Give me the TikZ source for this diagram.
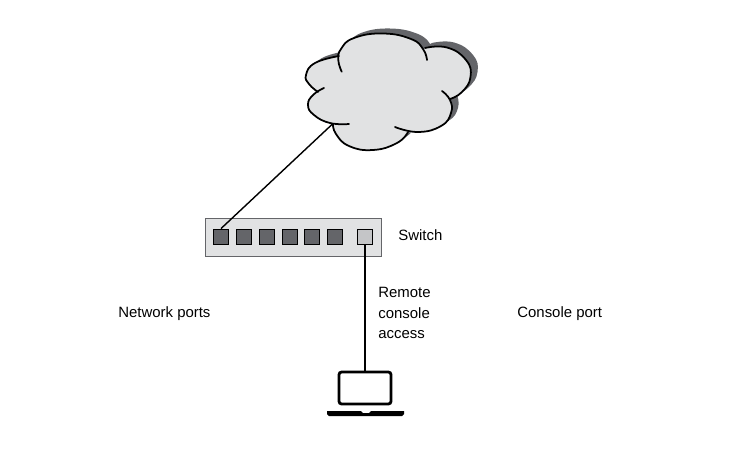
\documentclass[tikz,border=0pt]{standalone}
\usepackage{fontspec}
\setmainfont{Liberation Sans}
\definecolor{panelgray}{HTML}{E1E2E3}
\definecolor{shadegray}{HTML}{646569}
\definecolor{lightport}{HTML}{C4C5C7}
\tikzset{
    netport/.style={draw=black,fill=shadegray,line width=0.5pt,minimum size=0.3cm,inner sep=0pt},
    consoleport/.style={netport,fill=lightport},
    label/.style={font=\fontsize{8.5}{11.6}\selectfont,align=left,inner sep=0pt},
    lobe/.style={black,line width=1pt,line cap=round},
    smoothlobe/.style={smooth,tension=0.8}
}
\newcommand{\lobetop}{(341.7,71.7) (338.3,60) (341,49) (354,38) (383,33.5) (411,39) (423,49) (427,60)}
\newcommand{\loberight}{(425,48) (447,47.5) (466,60) (470.5,77) (462,92) (450,99)}
\newcommand{\lobelowright}{(442,91) (450,100) (451,113) (441,126) (418,132) (395,127)}
\newcommand{\lobebottom}{(408,132) (397,143) (373,150) (349,146) (336,134) (333,124)}
\newcommand{\lobelowleft}{(349,124) (330,123) (314,115) (308,105) (313,95) (324,88)}
\newcommand{\lobeupleft}{(318,92) (309,84) (306,75) (315,63) (339,56)}
\newcommand{\cloudfill}{plot[smoothlobe] coordinates {(341,49) (354,38) (383,33.5) (411,39) (423,49)} -- plot[smoothlobe] coordinates {(425,48) (447,47.5) (466,60) (470.5,77) (462,92) (450,99)} -- plot[smoothlobe] coordinates {(450,100) (451,113) (441,126) (418,132) (408,132)} -- plot[smoothlobe] coordinates {(408,132) (397,143) (373,150) (349,146) (336,134) (333,124)} -- plot[smoothlobe] coordinates {(330,123) (314,115) (308,105) (313,95) (318,92)} -- plot[smoothlobe] coordinates {(318,92) (309,84) (306,75) (315,63) (339,56)} -- cycle}
\begin{document}
\begin{tikzpicture}[x=0.02cm,y=-0.02cm]
    \useasboundingbox (0,0) rectangle (739,453);

    % cloud
    \fill[shadegray,shift={(7,-5)}] \cloudfill;
    \fill[panelgray] \cloudfill;
    \draw[lobe] plot[smoothlobe] coordinates {\lobetop};
    \draw[lobe] plot[smoothlobe] coordinates {\loberight};
    \draw[lobe] plot[smoothlobe] coordinates {\lobelowright};
    \draw[lobe] plot[smoothlobe] coordinates {\lobebottom};
    \draw[lobe] plot[smoothlobe] coordinates {\lobelowleft};
    \draw[lobe] plot[smoothlobe] coordinates {\lobeupleft};
    \coordinate (cloudend) at (332.5,124);

    % switch
    \node[draw=shadegray,fill=panelgray,line width=0.5pt,minimum width=3.52cm,minimum height=0.75cm,inner sep=0pt] (switch) at (293.7,237.2) {};
    \node[netport] (port1) at (221,236.5) {};
    \node[netport] (port2) at (243.5,236.5) {};
    \node[netport] (port3) at (266.5,236.5) {};
    \node[netport] (port4) at (289.5,236.5) {};
    \node[netport] (port5) at (312,236.5) {};
    \node[netport] (port6) at (335,236.5) {};
    \node[consoleport] (console) at (365,236.5) {};

    % laptop
    \node[draw=black,line width=1.6pt,rounded corners=1.5pt,minimum width=1.04cm,minimum height=0.64cm,inner sep=0pt] (laptop) at (365,388) {};
    \fill[black] (327,411) -- (361,411) -- (363,413) -- (369,413) -- (371,411) -- (404,411) -- (404,414) -- (402,416) -- (329,416) -- (327,414) -- cycle;

    % connectors
    \draw[black,thick] (cloudend) -- (port1.north);
    \draw[black,thick] (console.south) -- (laptop.north);

    % labels
    \node[label,anchor=west] (switchlabel) at (398,235) {Switch};
    \node[label,anchor=west] (netlabel) at (118,314) {Network ports};
    \node[label,anchor=west] (conslabel) at (517,314) {Console port};
    \node[label,anchor=west] (remotelabel) at (378,313) {Remote\\console\\access};
\end{tikzpicture}
\end{document}
